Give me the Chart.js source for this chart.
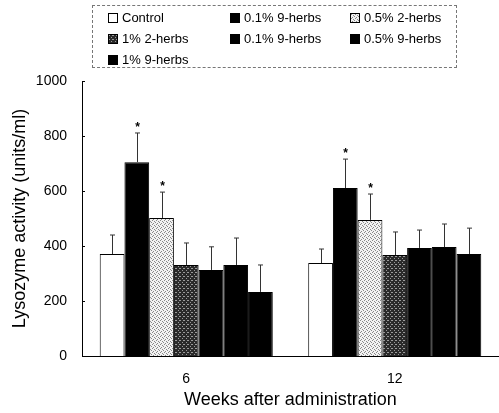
<!DOCTYPE html>
<html>
<head>
<meta charset="utf-8">
<script src="https://cdn.jsdelivr.net/npm/chart.js@4"></script>
<style>
  html, body { margin: 0; padding: 0; background: #fff; }
  #wrap { position: relative; width: 499px; height: 413px; }
  #legend {
    position: absolute; left: 92px; top: 5px; width: 365px; height: 63px;
    border: 1px dashed #777; box-sizing: border-box;
    font-family: 'Liberation Sans', Arial, sans-serif; font-size: 13px; color: #000;
    display: grid; grid-template-columns: 122px 120px 110px; grid-auto-rows: 21px;
    padding: 1px 0 0 15px;
  }
  #legend .item { display: flex; align-items: center; white-space: nowrap; }
  #legend .sw { width: 10px; height: 10px; border: 1px solid #000; box-sizing: border-box; margin-right: 4px; }
</style>
</head>
<body>
<div id="wrap">
  <canvas id="grafico" width="499" height="413"></canvas>
  <div id="legend"></div>
</div>
<script>
// Dados
const categorias = ['6', '12'];
const grupos = ['Control', '0.1% 9-herbs', '0.5% 2-herbs', '1% 2-herbs', '0.1% 9-herbs', '0.5% 9-herbs', '1% 9-herbs'];
const valores = [
    [371, 338],
    [705, 611],
    [502, 495],
    [331, 367],
    [313, 393],
    [331, 396],
    [233, 371]
];
const erros = [
    [69, 51],
    [106, 105],
    [94, 94],
    [80, 84],
    [84, 65],
    [98, 84],
    [98, 94]
];
const significativo = [
    [false, false],
    [true, true],
    [true, true],
    [false, false],
    [false, false],
    [false, false],
    [false, false]
];
const ticksY = [0, 200, 400, 600, 800, 1000];

// Padrões pontilhados para as barras cinza
function criaPadrao(fundo, ponto, pontos) {
    const c = document.createElement('canvas');
    c.width = 4; c.height = 4;
    const g = c.getContext('2d');
    g.fillStyle = fundo;
    g.fillRect(0, 0, 4, 4);
    g.fillStyle = ponto;
    pontos.forEach(p => g.fillRect(p[0], p[1], 1, 1));
    return c;
}
const padraoClaro = criaPadrao('#f2f2f2', '#888', [[0, 0], [2, 1], [1, 3], [3, 2]]);
const padraoEscuro = criaPadrao('#2a2a2a', '#9a9a9a', [[0, 0], [2, 2], [3, 0]]);

const ctx = document.getElementById('grafico').getContext('2d');
const preenchimentos = [
    '#ffffff',
    '#000000',
    ctx.createPattern(padraoClaro, 'repeat'),
    ctx.createPattern(padraoEscuro, 'repeat'),
    '#000000',
    '#000000',
    '#000000'
];
const fundosLegenda = [
    '#ffffff',
    '#000000',
    'url(' + padraoClaro.toDataURL() + ')',
    'url(' + padraoEscuro.toDataURL() + ')',
    '#000000',
    '#000000',
    '#000000'
];

const fonte = "'Liberation Sans', Arial, sans-serif";

// Barras de erro, asteriscos e marcas internas do eixo Y
const barrasErro = {
    id: 'barrasErro',
    afterDatasetsDraw(chart) {
        const c = chart.ctx;
        const y = chart.scales.y;
        c.save();
        c.strokeStyle = '#333';
        c.lineWidth = 1;
        chart.data.datasets.forEach((ds, i) => {
            const meta = chart.getDatasetMeta(i);
            meta.data.forEach((bar, j) => {
                const x = Math.round(bar.x) + 0.5;
                const topo = y.getPixelForValue(valores[i][j] + erros[i][j]);
                c.beginPath();
                c.moveTo(x, bar.y);
                c.lineTo(x, topo);
                c.moveTo(x - 2.5, topo);
                c.lineTo(x + 2.5, topo);
                c.stroke();
                if (significativo[i][j]) {
                    c.fillStyle = '#000';
                    c.font = 'bold 12px ' + fonte;
                    c.textAlign = 'center';
                    c.fillText('*', x, topo - 2);
                }
            });
        });
        // marcas do eixo apontando para dentro
        c.strokeStyle = '#000';
        ticksY.forEach(v => {
            const py = Math.round(y.getPixelForValue(v)) + 0.5;
            c.beginPath();
            c.moveTo(chart.chartArea.left, py);
            c.lineTo(chart.chartArea.left + 3, py);
            c.stroke();
        });
        c.restore();
    }
};

const chartConfig = {
    type: 'bar',
    data: {
        labels: categorias,
        datasets: grupos.map((nome, i) => ({
            label: nome,
            data: valores[i],
            backgroundColor: preenchimentos[i],
            borderColor: '#000',
            borderWidth: 1,
            barPercentage: 1,
            categoryPercentage: 0.83
        }))
    },
    options: {
        responsive: false,
        animation: false,
        layout: { padding: { top: 81, left: 0, right: 0, bottom: 0 } },
        plugins: {
            legend: { display: false },
            tooltip: { enabled: false }
        },
        scales: {
            x: {
                grid: { display: false, drawTicks: false },
                border: { color: '#000', width: 1 },
                ticks: { color: '#000', padding: 15, font: { family: fonte, size: 14 } },
                title: {
                    display: true,
                    text: 'Weeks after administration',
                    color: '#000',
                    font: { family: fonte, size: 18 },
                    padding: { top: 0, bottom: 2 }
                },
                afterFit: s => { s.height = 57; }
            },
            y: {
                min: 0,
                max: 1000,
                afterBuildTicks: s => { s.ticks = ticksY.map(v => ({ value: v })); },
                grid: { display: false, drawTicks: false },
                border: { color: '#000', width: 1 },
                ticks: { color: '#000', padding: 15, font: { family: fonte, size: 14 }, callback: v => String(v) },
                title: {
                    display: true,
                    text: 'Lysozyme activity (units/ml)',
                    color: '#000',
                    font: { family: fonte, size: 18 },
                    padding: { top: 9, bottom: 0 }
                },
                afterFit: s => { s.width = 82; }
            }
        }
    },
    plugins: [barrasErro]
};

const meuGrafico = new Chart(ctx, chartConfig);

// Legenda em três colunas
const legenda = document.getElementById('legend');
grupos.forEach((nome, i) => {
    const item = document.createElement('div');
    item.className = 'item';
    const sw = document.createElement('span');
    sw.className = 'sw';
    sw.style.background = fundosLegenda[i];
    item.appendChild(sw);
    item.appendChild(document.createTextNode(nome));
    legenda.appendChild(item);
});
</script>
</body>
</html>
